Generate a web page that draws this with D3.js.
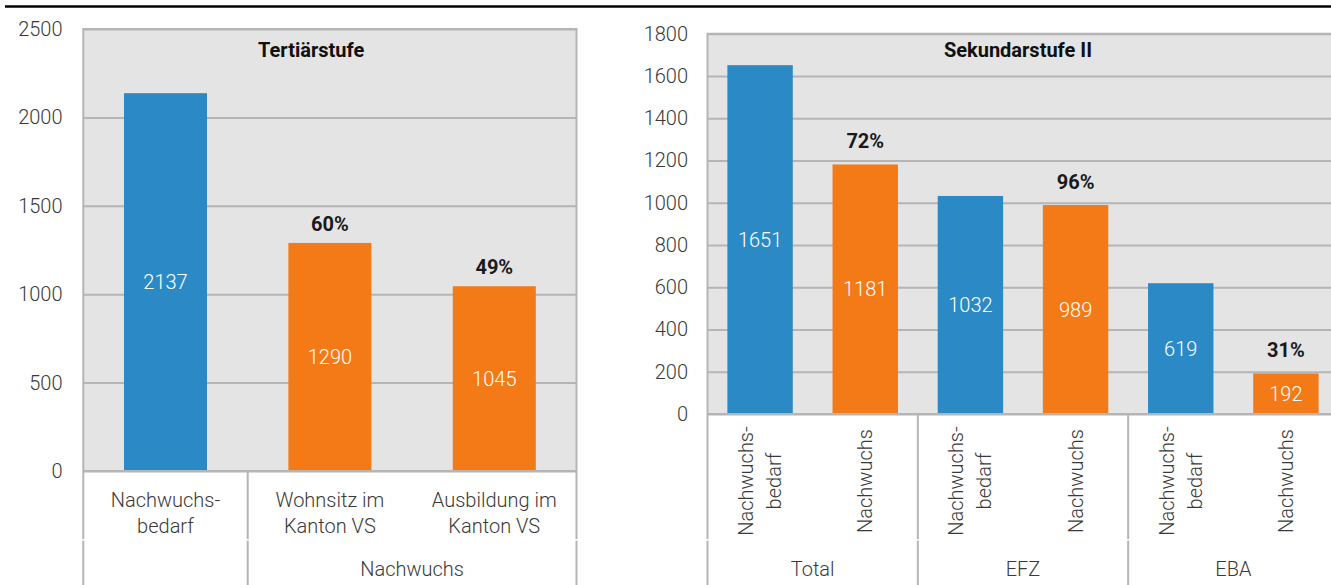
<!DOCTYPE html>
<html>
<head>
<meta charset="utf-8">
<script src="https://cdn.jsdelivr.net/npm/d3@7"></script>
<style>
  html, body { margin: 0; padding: 0; background: #fff; }
  svg { display: block; font-family: Roboto, "Noto Sans", sans-serif; }
</style>
</head>
<body>
<svg id="chart" width="1331" height="585"></svg>
<script>
// ---------- DATA ----------
const tertCategories = [["Nachwuchs-", "bedarf"], ["Wohnsitz im", "Kanton VS"], ["Ausbildung im", "Kanton VS"]];
const tertValues = [2137, 1290, 1045];
const tertKinds = ["bedarf", "nachwuchs", "nachwuchs"];
const tertPercent = [null, "60%", "49%"];
const tertGroupLabels = ["", "Nachwuchs"];
const tertGroupSizes = [1, 2];
const tertTicks = [0, 500, 1000, 1500, 2000, 2500];
const tertTitle = "Tertiärstufe";

const sekCategories = [["Nachwuchs-", "bedarf"], ["Nachwuchs"], ["Nachwuchs-", "bedarf"], ["Nachwuchs"], ["Nachwuchs-", "bedarf"], ["Nachwuchs"]];
const sekValues = [1651, 1181, 1032, 989, 619, 192];
const sekKinds = ["bedarf", "nachwuchs", "bedarf", "nachwuchs", "bedarf", "nachwuchs"];
const sekPercent = [null, "72%", null, "96%", null, "31%"];
const sekGroupLabels = ["Total", "EFZ", "EBA"];
const sekGroupSizes = [2, 2, 2];
const sekTicks = [0, 200, 400, 600, 800, 1000, 1200, 1400, 1600, 1800];
const sekTitle = "Sekundarstufe II";

// ---------- STYLE ----------
const colors = { bedarf: "#2b8ac6", nachwuchs: "#f47a17" };
const plotBg = "#e4e4e4";
const gridColor = "#b5b5b5";
const textColor = "#3a3a3a";
const fontSize = 20;

const svg = d3.select("#chart");

// top rule
svg.append("line")
  .attr("x1", 5).attr("x2", 1331).attr("y1", 6.5).attr("y2", 6.5)
  .attr("stroke", "#000").attr("stroke-width", 2.6);

function drawPanel(cfg) {
  const g = svg.append("g");
  const n = cfg.values.length;
  const x = d3.scaleBand()
    .domain(d3.range(n))
    .range([cfg.left, cfg.right])
    .paddingInner(cfg.pad).paddingOuter(cfg.pad / 2);
  const y = d3.scaleLinear().domain([0, d3.max(cfg.ticks)]).range([cfg.bottom, cfg.top]);
  const step = x.step();

  // background
  g.append("rect")
    .attr("x", cfg.left).attr("y", cfg.top)
    .attr("width", cfg.right - cfg.left).attr("height", cfg.bottom - cfg.top)
    .attr("fill", plotBg);

  // gridlines
  const grid = g.append("g")
    .attr("transform", `translate(${cfg.left},0)`)
    .call(d3.axisLeft(y).tickValues(cfg.ticks).tickSize(-(cfg.right - cfg.left)).tickFormat(""));
  grid.select(".domain").remove();
  grid.selectAll(".tick line").attr("stroke", gridColor).attr("stroke-width", 2);

  // y tick labels
  const yAxis = g.append("g")
    .attr("transform", `translate(${cfg.labelRight},0)`)
    .call(d3.axisLeft(y).tickValues(cfg.ticks).tickSize(0).tickPadding(0).tickFormat(d3.format("d")));
  yAxis.select(".domain").remove();
  yAxis.selectAll("text")
    .attr("font-size", fontSize).attr("font-weight", 300)
    .attr("fill", textColor).attr("font-family", "Roboto, sans-serif");

  // bars
  g.selectAll("rect.bar").data(cfg.values).join("rect")
    .attr("class", "bar")
    .attr("x", (d, i) => x(i))
    .attr("width", x.bandwidth())
    .attr("y", d => y(d))
    .attr("height", d => y(0) - y(d))
    .attr("fill", (d, i) => colors[cfg.kinds[i]]);

  // value labels (inside, centered)
  g.selectAll("text.val").data(cfg.values).join("text")
    .attr("class", "val")
    .attr("x", (d, i) => x(i) + x.bandwidth() / 2)
    .attr("y", d => (y(d) + y(0)) / 2)
    .attr("dy", "0.36em")
    .attr("text-anchor", "middle")
    .attr("font-size", fontSize).attr("font-weight", 300)
    .attr("fill", "#fff")
    .text(d => d);

  // percent labels
  g.selectAll("text.pct").data(cfg.values).join("text")
    .attr("class", "pct")
    .attr("x", (d, i) => x(i) + x.bandwidth() / 2)
    .attr("y", d => y(d) - cfg.pctGap)
    .attr("text-anchor", "middle")
    .attr("font-size", fontSize).attr("font-weight", 700)
    .attr("fill", "#1a1a1a")
    .text((d, i) => cfg.percent[i] || "");

  // title
  g.append("text")
    .attr("x", cfg.left + (cfg.right - cfg.left) * cfg.titleFrac)
    .attr("y", 57.3)
    .attr("text-anchor", "middle")
    .attr("font-size", fontSize).attr("font-weight", 700)
    .attr("fill", "#111")
    .text(cfg.title);

  // frame (left, top, right)
  g.append("path")
    .attr("d", `M${cfg.left},${cfg.bottom}V${cfg.top}H${cfg.right}V${cfg.bottom}`)
    .attr("fill", "none").attr("stroke", gridColor).attr("stroke-width", 2);

  // group boundary lines under plot (with small gap between levels)
  const boundaries = [0];
  let acc = 0;
  cfg.groupSizes.forEach(s => { acc += s; boundaries.push(acc); });
  boundaries.forEach(b => {
    const bx = cfg.left + b * step;
    g.append("line").attr("x1", bx).attr("x2", bx).attr("y1", cfg.bottom).attr("y2", 539)
      .attr("stroke", gridColor).attr("stroke-width", 2);
    g.append("line").attr("x1", bx).attr("x2", bx).attr("y1", 540.5).attr("y2", 585)
      .attr("stroke", gridColor).attr("stroke-width", 2);
  });

  // category labels
  cfg.categories.forEach((lines, i) => {
    const cx = x(i) + x.bandwidth() / 2;
    if (cfg.rotate) {
      const t = g.append("text")
        .attr("transform", `translate(${cx - (lines.length - 1) * cfg.lineGap / 2 + 7},${cfg.rotCenter}) rotate(-90)`)
        .attr("text-anchor", "middle")
        .attr("font-size", fontSize).attr("font-weight", 300).attr("fill", textColor);
      lines.forEach((ln, k) => {
        t.append("tspan").attr("x", 0).attr("y", k * cfg.lineGap).text(ln);
      });
    } else {
      const t = g.append("text")
        .attr("text-anchor", "middle")
        .attr("font-size", fontSize).attr("font-weight", 300).attr("fill", textColor);
      lines.forEach((ln, k) => {
        t.append("tspan").attr("x", cx).attr("y", 506.7 + k * cfg.lineGap).text(ln);
      });
    }
  });

  // group labels
  let start = 0;
  cfg.groupSizes.forEach((s, gi) => {
    const gx = cfg.left + (start + s / 2) * step;
    g.append("text")
      .attr("x", gx).attr("y", 576)
      .attr("text-anchor", "middle")
      .attr("font-size", fontSize).attr("font-weight", 300).attr("fill", textColor)
      .text(cfg.groupLabels[gi]);
    start += s;
  });

  // bottom border of plot
  g.append("line")
    .attr("x1", cfg.left).attr("x2", cfg.right).attr("y1", cfg.bottom).attr("y2", cfg.bottom)
    .attr("stroke", gridColor).attr("stroke-width", 2.2);
}

drawPanel({
  categories: tertCategories, values: tertValues, kinds: tertKinds, percent: tertPercent,
  groupLabels: tertGroupLabels, groupSizes: tertGroupSizes, ticks: tertTicks, title: tertTitle,
  left: 83.3, right: 576.5, top: 29, bottom: 471, labelRight: 62.5,
  pad: 0.495, pctGap: 12, titleFrac: 0.462, rotate: false, lineGap: 26.6
});

drawPanel({
  categories: sekCategories, values: sekValues, kinds: sekKinds, percent: sekPercent,
  groupLabels: sekGroupLabels, groupSizes: sekGroupSizes, ticks: sekTicks, title: sekTitle,
  left: 707.5, right: 1338.5, top: 33.7, bottom: 414, labelRight: 688,
  pad: 0.378, pctGap: 16, titleFrac: 0.492, rotate: true, lineGap: 28, rotCenter: 481
});
</script>
</body>
</html>
